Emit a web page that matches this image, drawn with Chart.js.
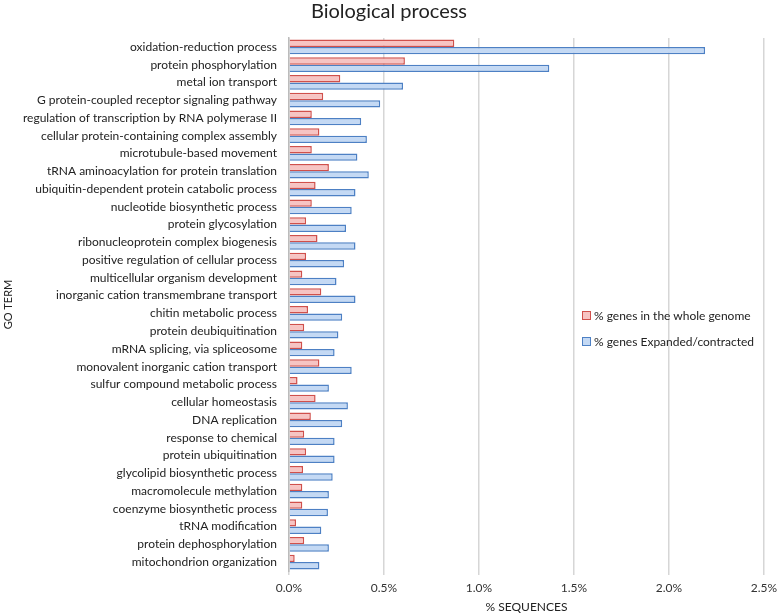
<!DOCTYPE html>
<html>
<head>
<meta charset="utf-8">
<script src="https://cdn.jsdelivr.net/npm/chart.js@4/dist/chart.umd.min.js"></script>
<style>
  html, body { margin: 0; padding: 0; background: #fff; }
  #wrap { position: relative; width: 778px; height: 616px; }
  #legend { position: absolute; left: 582px; top: 302px; font-family: Lato, "Open Sans", sans-serif; font-size: 12px; color: #222; }
  #legend div { display: flex; align-items: center; height: 26px; }
  #legend span.box { display: inline-block; width: 7px; height: 7px; margin-right: 3px; border: 1px solid; }
</style>
</head>
<body>
<div id="wrap">
  <canvas id="c" width="778" height="616"></canvas>
  <div id="legend"></div>
</div>
<script>
const categories = [
  "oxidation-reduction process",
  "protein phosphorylation",
  "metal ion transport",
  "G protein-coupled receptor signaling pathway",
  "regulation of transcription by RNA polymerase II",
  "cellular protein-containing complex assembly",
  "microtubule-based movement",
  "tRNA aminoacylation for protein translation",
  "ubiquitin-dependent protein catabolic process",
  "nucleotide biosynthetic process",
  "protein glycosylation",
  "ribonucleoprotein complex biogenesis",
  "positive regulation of cellular process",
  "multicellular organism development",
  "inorganic cation transmembrane transport",
  "chitin metabolic process",
  "protein deubiquitination",
  "mRNA splicing, via spliceosome",
  "monovalent inorganic cation transport",
  "sulfur compound metabolic process",
  "cellular homeostasis",
  "DNA replication",
  "response to chemical",
  "protein ubiquitination",
  "glycolipid biosynthetic process",
  "macromolecule methylation",
  "coenzyme biosynthetic process",
  "tRNA modification",
  "protein dephosphorylation",
  "mitochondrion organization"
];
const seriesNames = ["% genes in the whole genome", "% genes Expanded/contracted"];
const wholeGenome = [0.87, 0.61, 0.27, 0.18, 0.12, 0.16, 0.12, 0.21, 0.14, 0.12,
  0.09, 0.15, 0.09, 0.07, 0.17, 0.10, 0.08, 0.07, 0.16, 0.045,
  0.14, 0.115, 0.08, 0.09, 0.074, 0.07, 0.07, 0.037, 0.08, 0.03];
const expanded = [2.19, 1.37, 0.60, 0.48, 0.38, 0.41, 0.36, 0.42, 0.35, 0.33,
  0.30, 0.35, 0.29, 0.25, 0.35, 0.28, 0.26, 0.24, 0.33, 0.21,
  0.31, 0.28, 0.24, 0.24, 0.23, 0.21, 0.205, 0.17, 0.21, 0.16];
const xTicks = [0, 0.5, 1.0, 1.5, 2.0, 2.5];

const FONT = "Lato, 'Open Sans', sans-serif";
const redFill = "#f7c4c3", redBorder = "#d0504c";
const blueFill = "#c4d9f4", blueBorder = "#4d80c4";

const ctx = document.getElementById('c').getContext('2d');
new Chart(ctx, {
  type: 'bar',
  data: {
    labels: categories,
    datasets: [
      { label: seriesNames[0], data: wholeGenome, backgroundColor: redFill, borderColor: redBorder, borderWidth: 1.5, categoryPercentage: 0.83, barPercentage: 1.0 },
      { label: seriesNames[1], data: expanded, backgroundColor: blueFill, borderColor: blueBorder, borderWidth: 1.5, categoryPercentage: 0.83, barPercentage: 1.0 }
    ]
  },
  options: {
    indexAxis: 'y',
    responsive: false,
    animation: false,
    layout: { padding: { left: 2, right: 2, top: 0, bottom: 2 } },
    plugins: {
      legend: { display: false },
      tooltip: { enabled: false },
      title: { display: true, text: 'Biological process', font: { family: FONT, size: 20, weight: 'normal' }, color: '#222', padding: { top: 0, bottom: 14 } }
    },
    scales: {
      x: {
        min: 0, max: 2.5,
        afterBuildTicks: (s) => { s.ticks = xTicks.map(v => ({ value: v })); },
        afterFit: (s) => { s.height = 43; s.paddingRight = 14; },
        ticks: { callback: (v) => Number(v).toFixed(1) + '%', font: { family: FONT, size: 12 }, color: '#333', padding: 6 },
        grid: { color: '#d6d6d6', lineWidth: 1.5, drawTicks: true, tickLength: 4 },
        border: { display: false },
        title: { display: true, text: '% SEQUENCES', font: { family: FONT, size: 12 }, color: '#222', padding: { top: 2, bottom: 0 } }
      },
      y: {
        afterFit: (s) => { s.width = 287; },
        ticks: { font: { family: FONT, size: 12 }, color: '#222', autoSkip: false, padding: 4 },
        grid: { display: false },
        border: { display: true, color: '#bbbbbb', width: 1.5 },
        title: { display: true, text: 'GO TERM', font: { family: FONT, size: 11 }, color: '#222', padding: { top: 0, bottom: 4 } }
      }
    }
  }
});

const leg = document.getElementById('legend');
[[seriesNames[0], redFill, redBorder], [seriesNames[1], blueFill, blueBorder]].forEach(([t, f, b]) => {
  const d = document.createElement('div');
  const s = document.createElement('span');
  s.className = 'box'; s.style.background = f; s.style.borderColor = b;
  d.appendChild(s); d.appendChild(document.createTextNode(t));
  leg.appendChild(d);
});
</script>
</body>
</html>
